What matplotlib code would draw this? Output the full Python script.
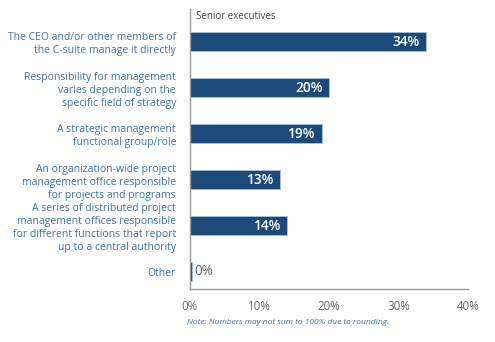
import matplotlib
matplotlib.use("Agg")
import matplotlib.pyplot as plt

categories = [
    "The CEO and/or other members of\nthe C-suite manage it directly",
    "Responsibility for management\nvaries depending on the\nspecific field of strategy",
    "A strategic management\nfunctional group/role",
    "An organization-wide project\nmanagement office responsible\nfor projects and programs",
    "A series of distributed project\nmanagement offices responsible\nfor different functions that report\nup to a central authority",
    "Other",
]
values = [34, 20, 19, 13, 14, 0]
xticks = [0, 10, 20, 30, 40]
xtick_labels = ["0%", "10%", "20%", "30%", "40%"]

bar_color = "#1c4a7b"
label_color = "#3f72a8"
grey = "#666666"

plt.rcParams["font.family"] = ["Open Sans", "DejaVu Sans"]

fig = plt.figure(figsize=(4.95, 3.42), dpi=100)
ax = fig.add_axes([0.3838, 0.155, 0.5616, 0.8187])

ypos = list(range(len(categories)))
ax.barh(ypos, [max(v, 0.3) for v in values], height=0.42,
        color=bar_color, edgecolor="#a9c2dc", linewidth=0.6)

for y, v in zip(ypos, values):
    if v > 3:
        ax.text(v - 0.9, y, f"{v}%", ha="right", va="center",
                color="white", fontsize=9.8, fontweight="semibold")
    else:
        ax.text(v + 0.6, y, f"{v}%", ha="left", va="center",
                color=grey, fontsize=9.8)

ax.set_xlim(0, 40)
ax.set_ylim(5.38, -0.707)
ax.set_yticks(ypos)
ax.set_yticklabels(categories, fontsize=7.45, color=label_color,
                   linespacing=1.25)
ax.set_xticks(xticks)
ax.set_xticklabels(xtick_labels, fontsize=8.3, color=grey)
ax.tick_params(axis="both", length=0)
ax.tick_params(axis="y", pad=10)
ax.tick_params(axis="x", pad=8)

for side in ("top", "right"):
    ax.spines[side].set_visible(False)
for side in ("left", "bottom"):
    ax.spines[side].set_color("#9a9a9a")
    ax.spines[side].set_linewidth(1.0)

ax.text(0.85, -0.55, "Senior executives", fontsize=7.0, color="#444444",
        ha="left", va="center")

fig.text(187 / 495, 1 - 323 / 342,
         "Note: Numbers may not sum to 100% due to rounding.",
         fontsize=6.0, style="italic", color=label_color,
         ha="left", va="center")

fig.savefig("out.png", dpi=100, facecolor="white")
